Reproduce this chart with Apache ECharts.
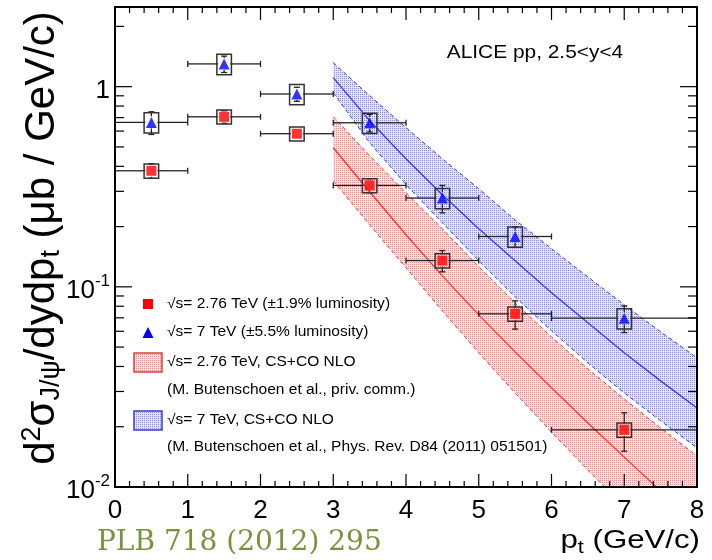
<!DOCTYPE html>
<html><head><meta charset="utf-8">
<script src="https://cdn.jsdelivr.net/npm/echarts@6/dist/echarts.min.js"></script>
<style>html,body{margin:0;padding:0;background:#fff}#c{width:712px;height:560px}</style>
</head><body><div id="c"></div>
<script>
// ---------------- data ----------------
const binCenter = [0.5, 1.5, 2.5, 3.5, 4.5, 5.5, 7];
const binLow    = [0, 1, 2, 3, 4, 5, 6];
const binHigh   = [1, 2, 3, 4, 5, 6, 8];

const xsec276 = [0.380, 0.707, 0.582, 0.321, 0.1353, 0.0733, 0.0193];
const stat276 = [0.032, 0.051, 0.034, 0.026, 0.0165, 0.0118, 0.0042];
const sys276  = [0.031, 0.057, 0.047, 0.026, 0.011, 0.0059, 0.0016];

const xsec7 = [0.663, 1.299, 0.919, 0.660, 0.2777, 0.1784, 0.0697];
const stat7 = [0.086, 0.122, 0.074, 0.066, 0.0435, 0.021, 0.0106];
const sys7  = [0.077, 0.151, 0.107, 0.077, 0.032, 0.0207, 0.0081];

const theoryPt = [3, 3.5, 4, 4.5, 5, 5.5, 6, 6.5, 7, 7.5, 8];
const nlo7Central = [1.109, 0.676, 0.4365, 0.2884, 0.1950, 0.1349, 0.0933, 0.0661, 0.0468, 0.0339, 0.0248];
const nlo7Upper   = [1.318, 0.902, 0.624, 0.4365, 0.309, 0.216, 0.155, 0.112, 0.0813, 0.0596, 0.0442];
const nlo7Lower   = [0.933, 0.525, 0.324, 0.209, 0.135, 0.0891, 0.0603, 0.0417, 0.0295, 0.0214, 0.0157];
const nlo276Central = [0.495, 0.2985, 0.182, 0.1135, 0.0724, 0.0473, 0.0313, 0.0209, 0.0141, 0.00955, 0.0066];
const nlo276Upper   = [0.708, 0.452, 0.295, 0.195, 0.126, 0.0832, 0.0562, 0.0389, 0.0275, 0.0197, 0.0143];
const nlo276Lower   = [0.339, 0.204, 0.1245, 0.0759, 0.0468, 0.0295, 0.0188, 0.01216, 0.00794, 0.00525, 0.00347];

const xMajorTicks = [0, 1, 2, 3, 4, 5, 6, 7, 8];
const xMinorTicks = [];
for (let i = 0; i <= 40; i++) { if (i % 5) xMinorTicks.push(i / 5); }
const yMajorTicks = [0.01, 0.1, 1];
const yMinorTicks = [0.02,0.03,0.04,0.05,0.06,0.07,0.08,0.09,0.2,0.3,0.4,0.5,0.6,0.7,0.8,0.9,2];

const legendTexts = [
  '√s= 2.76 TeV (±1.9% luminosity)',
  '√s= 7 TeV (±5.5% luminosity)',
  '√s= 2.76 TeV, CS+CO NLO',
  '(M. Butenschoen et al., priv. comm.)',
  '√s= 7 TeV, CS+CO NLO',
  '(M. Butenschoen et al., Phys. Rev. D84 (2011) 051501)'
];

// ---------------- styles ----------------
const X_MIN = 0, X_MAX = 8, Y_MIN = 0.01, Y_MAX = 2.5;
const FONT = '"Liberation Sans", Arial, sans-serif';
const RED = '#ff0000', BLUE = '#0000ff';
const RED_LINE = '#e33b3b', BLUE_LINE = '#3b3bd6';

function dotPattern(bg, dot) {
  const cv = document.createElement('canvas');
  cv.width = 2; cv.height = 2;
  const g = cv.getContext('2d');
  g.fillStyle = bg; g.fillRect(0, 0, 2, 2);
  g.fillStyle = dot; g.fillRect(0, 0, 1, 1);
  return { image: cv, repeat: 'repeat' };
}
const redFill = dotPattern('#fbe0e0', '#e88a8a');
const blueFill = dotPattern('#e2e3f8', '#8a8ee0');

function bandFill(lo, hi, fill) {
  return {
    type: 'custom', silent: true, z: 1, clip: true,
    data: theoryPt.map((x, i) => [x, lo[i], hi[i]]),
    renderItem(params, api) {
      if (params.dataIndex !== 0) return null;
      const pts = [];
      theoryPt.forEach((x, i) => pts.push(api.coord([x, hi[i]])));
      for (let i = theoryPt.length - 1; i >= 0; i--) pts.push(api.coord([theoryPt[i], lo[i]]));
      const cs = params.coordSys;
      return {
        type: 'polygon', shape: { points: pts }, style: { fill: fill, stroke: null },
        clipPath: { type: 'rect', shape: { x: cs.x, y: cs.y, width: cs.width, height: cs.height } }
      };
    }
  };
}
function bandLine(vals, color, dashed) {
  return {
    type: 'line', silent: true, z: 2, symbol: 'none', clip: true,
    data: theoryPt.map((x, i) => [x, vals[i]]),
    lineStyle: { color: color, width: dashed ? 1 : 1.3, type: dashed ? [4, 3] : 'solid' }
  };
}

const BOX_HW = 0.1;
function errorSeries(y, stat, sys) {
  return {
    type: 'custom', silent: true, z: 4, clip: false,
    data: binCenter.map((x, i) => [x, y[i], binLow[i], binHigh[i], stat[i], sys[i]]),
    encode: { x: 0, y: 1 },
    renderItem(params, api) {
      const x = api.value(0), yv = api.value(1), xl = api.value(2), xh = api.value(3);
      const st = api.value(4), sy = api.value(5);
      const c = api.coord([x, yv]);
      const pl = api.coord([xl, yv]), ph = api.coord([xh, yv]);
      const su = api.coord([x, yv + st]), sd = api.coord([x, yv - st]);
      const b1 = api.coord([x - BOX_HW, yv + sy]), b2 = api.coord([x + BOX_HW, yv - sy]);
      const gap = 6, cap = 3, ch = [];
      const ln = (x1, y1, x2, y2) => ch.push({ type: 'line', shape: { x1, y1, x2, y2 }, style: { stroke: '#222', lineWidth: 1.3 } });
      ln(pl[0], c[1], c[0] - gap, c[1]); ln(c[0] + gap, c[1], ph[0], c[1]);
      ln(pl[0], c[1] - cap, pl[0], c[1] + cap); ln(ph[0], c[1] - cap, ph[0], c[1] + cap);
      if (su[1] < c[1] - gap) { ln(c[0], c[1] - gap, c[0], su[1]); ln(c[0] - cap, su[1], c[0] + cap, su[1]); }
      if (sd[1] > c[1] + gap) { ln(c[0], c[1] + gap, c[0], sd[1]); ln(c[0] - cap, sd[1], c[0] + cap, sd[1]); }
      ch.push({ type: 'rect', shape: { x: b1[0], y: b1[1], width: b2[0] - b1[0], height: b2[1] - b1[1] },
        style: { fill: null, stroke: '#333', lineWidth: 1.5 } });
      return { type: 'group', children: ch };
    }
  };
}

function xTickSeries(vals, len) {
  return {
    type: 'custom', silent: true, z: 8, clip: false,
    data: vals.map(v => [v, Y_MIN]),
    renderItem(params, api) {
      const b = api.coord([api.value(0), Y_MIN]), t = api.coord([api.value(0), Y_MAX]);
      const s = { stroke: '#000', lineWidth: 1.2 };
      return { type: 'group', children: [
        { type: 'line', shape: { x1: b[0], y1: b[1], x2: b[0], y2: b[1] - len }, style: s },
        { type: 'line', shape: { x1: t[0], y1: t[1], x2: t[0], y2: t[1] + len }, style: s }
      ] };
    }
  };
}
function yTickSeries(vals, len) {
  return {
    type: 'custom', silent: true, z: 8, clip: false,
    data: vals.map(v => [X_MIN, v]),
    renderItem(params, api) {
      const l = api.coord([X_MIN, api.value(1)]), r = api.coord([X_MAX, api.value(1)]);
      const s = { stroke: '#000', lineWidth: 1.2 };
      return { type: 'group', children: [
        { type: 'line', shape: { x1: l[0], y1: l[1], x2: l[0] + len, y2: l[1] }, style: s },
        { type: 'line', shape: { x1: r[0], y1: r[1], x2: r[0] - len, y2: r[1] }, style: s }
      ] };
    }
  };
}

const chart = echarts.init(document.getElementById('c'), null, { renderer: 'canvas' });
const axisLine = { show: true, onZero: false, lineStyle: { color: '#000', width: 2 } };
const option = {
  animation: false,
  backgroundColor: '#fff',
  grid: { left: 115, right: 15, top: 7, bottom: 73 },
  xAxis: [
    { type: 'value', min: X_MIN, max: X_MAX, interval: 1, position: 'bottom', z: 10,
      axisLine, axisTick: { show: false }, splitLine: { show: false },
      axisLabel: { fontSize: 26, color: '#000', fontFamily: FONT, margin: 11 } },
    { type: 'value', min: X_MIN, max: X_MAX, interval: 1, position: 'top', z: 10,
      axisLine, axisTick: { show: false }, splitLine: { show: false }, axisLabel: { show: false } }
  ],
  yAxis: [
    { type: 'log', logBase: 10, min: Y_MIN, max: Y_MAX, position: 'left', z: 10,
      axisLine, axisTick: { show: false }, splitLine: { show: false },
      axisLabel: {
        margin: 5, color: '#000',
        formatter: v => {
          const l = Math.log10(v), e = Math.round(l);
          if (Math.abs(l - e) > 1e-6) return '';
          return e === 0 ? '{b|1}' : '{b|10}{s|' + e + '}';
        },
        rich: {
          b: { fontSize: 26, fontFamily: FONT, color: '#000', padding: [8, 0, 0, 0] },
          s: { fontSize: 17, fontFamily: FONT, color: '#000', padding: [0, 0, 12, 0] }
        }
      } },
    { type: 'log', logBase: 10, min: Y_MIN, max: Y_MAX, position: 'right', z: 10,
      axisLine, axisTick: { show: false }, splitLine: { show: false }, axisLabel: { show: false } }
  ],
  series: [
    bandFill(nlo276Lower, nlo276Upper, redFill),
    bandFill(nlo7Lower, nlo7Upper, blueFill),
    bandLine(nlo276Central, RED_LINE, false),
    bandLine(nlo276Upper, RED_LINE, true),
    bandLine(nlo276Lower, RED_LINE, true),
    bandLine(nlo7Central, BLUE_LINE, false),
    bandLine(nlo7Upper, BLUE_LINE, true),
    bandLine(nlo7Lower, BLUE_LINE, true),
    errorSeries(xsec276, stat276, sys276),
    errorSeries(xsec7, stat7, sys7),
    { type: 'scatter', z: 6, silent: true, symbol: 'rect', symbolSize: 10,
      itemStyle: { color: RED }, data: binCenter.map((x, i) => [x, xsec276[i]]) },
    { type: 'scatter', z: 6, silent: true, symbol: 'triangle', symbolSize: 11,
      itemStyle: { color: BLUE }, data: binCenter.map((x, i) => [x, xsec7[i]]) },
    xTickSeries(xMajorTicks, 13),
    xTickSeries(xMinorTicks, 6),
    yTickSeries(yMajorTicks, 17),
    yTickSeries(yMinorTicks, 9)
  ],
  graphic: [
    // legend
    { type: 'rect', shape: { x: 143, y: 299, width: 10, height: 10 }, style: { fill: RED } },
    { type: 'polygon', shape: { points: [[148, 327], [142.5, 338], [153.5, 338]] }, style: { fill: BLUE } },
    { type: 'rect', shape: { x: 134, y: 353, width: 28, height: 19 }, style: { fill: redFill, stroke: RED_LINE, lineWidth: 1.5 } },
    { type: 'rect', shape: { x: 134, y: 411, width: 28, height: 19 }, style: { fill: blueFill, stroke: BLUE_LINE, lineWidth: 1.5 } },
    ...legendTexts.map((t, i) => ({
      type: 'text', x: 167, y: [304, 332, 362, 390, 420, 447][i], scaleX: 1.11,
      style: { text: t, font: '14px ' + FONT, fill: '#000', verticalAlign: 'middle', align: 'left' }
    })),
    { type: 'text', x: 535, y: 53, scaleX: 1.16,
      style: { text: 'ALICE pp, 2.5<y<4', font: '18px ' + FONT, fill: '#000', align: 'center', verticalAlign: 'middle' } },
    { type: 'text', x: 700, y: 541, scaleX: 1.2,
      style: { text: '{a|p}{s|t}{a| (GeV/c)}', align: 'right', verticalAlign: 'middle',
        rich: { a: { fontSize: 26, fontFamily: FONT, fill: '#000' },
                s: { fontSize: 18, fontFamily: FONT, fill: '#000', padding: [14, 0, 0, 0] } } } },
    { type: 'text', x: 42, y: 238, rotation: Math.PI / 2,
      style: { text: '{a|d}{p|2}{a|σ}{s|J/ψ}{a|/dydp}{s|t}{a| (μb / GeV/c)}', align: 'center', verticalAlign: 'middle',
        rich: { a: { fontSize: 42, fontFamily: FONT, fill: '#000' },
                p: { fontSize: 27, fontFamily: FONT, fill: '#000', padding: [0, 0, 18, 0] },
                s: { fontSize: 27, fontFamily: FONT, fill: '#000', padding: [20, 0, 0, 0] } } } },
    { type: 'text', x: 97, y: 543,
      style: { text: 'PLB 718 (2012) 295', font: '28px "DejaVu Serif", serif', fill: '#77933c', align: 'left', verticalAlign: 'middle' } }
  ]
};
chart.setOption(option);
</script>
</body></html>
